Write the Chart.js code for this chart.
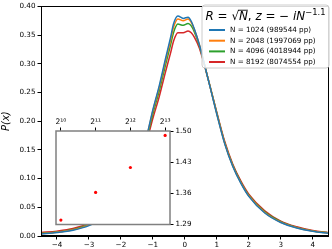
<!DOCTYPE html>
<html>
<head>
<meta charset="utf-8">
<script src="https://cdn.jsdelivr.net/npm/chart.js@4.4.1/dist/chart.umd.min.js"></script>
<style>
html,body{margin:0;padding:0;background:#fff;}
#wrap{position:relative;width:332px;height:249px;}
#wrap canvas{position:absolute;left:0;top:0;}
</style>
</head>
<body>
<div id="wrap">
<canvas id="main" width="332" height="249"></canvas>
<canvas id="inset" width="332" height="249"></canvas>
</div>
<script>
// ---------- data ----------
const xs = [-4.5,-4,-3.5,-3,-2.5,-2,-1.75,-1.5,-1.25,-1,-0.8,-0.6,-0.45,-0.35,-0.22,-0.05,0.1,0.2,0.3,0.45,0.6,0.8,1,1.25,1.5,1.75,2,2.5,3,3.5,4,4.5];
const p1024 = [0.0035,0.006,0.010,0.018,0.033,0.062,0.085,0.115,0.160,0.220,0.262,0.310,0.345,0.370,0.383,0.379,0.381,0.374,0.360,0.334,0.302,0.257,0.212,0.160,0.121,0.092,0.069,0.040,0.0235,0.014,0.0082,0.0048];
const p2048 = [0.004,0.0065,0.011,0.019,0.034,0.063,0.086,0.116,0.160,0.218,0.259,0.306,0.340,0.364,0.378,0.375,0.378,0.372,0.359,0.334,0.302,0.258,0.213,0.161,0.122,0.093,0.070,0.041,0.024,0.0145,0.0086,0.005];
const p4096 = [0.0045,0.007,0.0115,0.020,0.035,0.063,0.085,0.115,0.157,0.213,0.253,0.299,0.332,0.355,0.369,0.367,0.370,0.366,0.355,0.332,0.301,0.258,0.214,0.162,0.123,0.094,0.071,0.042,0.025,0.015,0.0089,0.0053];
const p8192 = [0.006,0.0085,0.013,0.022,0.037,0.064,0.085,0.113,0.153,0.205,0.243,0.287,0.318,0.340,0.354,0.354,0.357,0.354,0.346,0.328,0.300,0.258,0.215,0.164,0.125,0.096,0.073,0.044,0.026,0.016,0.0095,0.0058];
const seriesLabels = ['N = 1024 (989544 pp)','N = 2048 (1997069 pp)','N = 4096 (4018944 pp)','N = 8192 (8074554 pp)'];
const seriesColors = ['#1f77b4','#ff7f0e','#2ca02c','#d62728'];
const xTickValues = [-4,-3,-2,-1,0,1,2,3,4];
const yTickValues = [0,0.05,0.10,0.15,0.20,0.25,0.30,0.35,0.40];
const insetN = [1024,2048,4096,8192];
const insetVal = [1.300,1.362,1.418,1.490];
const insetYTicks = [1.29,1.36,1.43,1.50];
const insetXLabels = ['2¹⁰','2¹¹','2¹²','2¹³'];

const FONT = 'DejaVu Sans';
const seriesList = [p1024,p2048,p4096,p8192];

// ---------- plugins ----------
const framePlugin = {
  id:'frame',
  afterDraw(chart){
    const {ctx, chartArea:a} = chart;
    ctx.save();
    ctx.strokeStyle = '#000';
    ctx.lineWidth = 1;
    ctx.strokeRect(Math.round(a.left)+0.5, Math.round(a.top)+0.5, Math.round(a.right-a.left)-1, Math.round(a.bottom-a.top)-1);
    ctx.restore();
  }
};

const legendPlugin = {
  id:'mathLegend',
  afterDraw(chart){
    const ctx = chart.ctx;
    ctx.save();
    const bx=202, by=5, bw=127, bh=63, r=3;
    ctx.beginPath();
    ctx.moveTo(bx+r,by); ctx.lineTo(bx+bw-r,by); ctx.quadraticCurveTo(bx+bw,by,bx+bw,by+r);
    ctx.lineTo(bx+bw,by+bh-r); ctx.quadraticCurveTo(bx+bw,by+bh,bx+bw-r,by+bh);
    ctx.lineTo(bx+r,by+bh); ctx.quadraticCurveTo(bx,by+bh,bx,by+bh-r);
    ctx.lineTo(bx,by+r); ctx.quadraticCurveTo(bx,by,bx+r,by); ctx.closePath();
    ctx.fillStyle='rgba(255,255,255,0.85)'; ctx.fill();
    ctx.strokeStyle='#cccccc'; ctx.lineWidth=1; ctx.stroke();

    // title  R = √N, z = − iN^{−1.1}
    const pieces = [
      {t:'R', it:true},{t:' = ', it:false},{t:'√', it:false},{t:'N', it:true, bar:true},
      {t:', ', it:false},{t:'z', it:true},{t:' = ', it:false},{t:'− ', it:false},
      {t:'i', it:true},{t:'N', it:true},{t:'−1.1', it:false, sup:true}
    ];
    const measure = (fs)=>{
      let total=0;
      pieces.forEach(p=>{
        ctx.font = (p.it?'italic ':'')+(p.sup?fs*0.7:fs)+'px '+FONT;
        p.w = ctx.measureText(p.t).width; total+=p.w;
      });
      return total;
    };
    let fs = 13;
    const w0 = measure(fs);
    fs = fs*120/w0;
    const total = measure(fs);
    let x = bx + (bw-total)/2; const base = 20;
    ctx.fillStyle='#000'; ctx.textBaseline='alphabetic'; ctx.textAlign='left';
    pieces.forEach(p=>{
      ctx.font = (p.it?'italic ':'')+(p.sup?fs*0.7:fs)+'px '+FONT;
      ctx.fillText(p.t, x, p.sup? base-fs*0.45 : base);
      if(p.bar){ ctx.beginPath(); ctx.lineWidth=0.9; ctx.strokeStyle='#000'; ctx.moveTo(x-1, base-fs*0.82); ctx.lineTo(x+p.w, base-fs*0.82); ctx.stroke(); }
      x += p.w;
    });

    // entries
    ctx.font = '7.2px '+FONT; ctx.textBaseline='middle';
    const ys=[30,40.7,51.4,62];
    seriesLabels.forEach((lab,i)=>{
      ctx.strokeStyle=seriesColors[i]; ctx.lineWidth=2;
      ctx.beginPath(); ctx.moveTo(209,ys[i]); ctx.lineTo(225,ys[i]); ctx.stroke();
      ctx.fillStyle='#000'; ctx.fillText(lab, 230, ys[i]);
    });
    ctx.restore();
  }
};

// ---------- main chart ----------
new Chart(document.getElementById('main'), {
  type:'line',
  data:{
    datasets: seriesList.map((arr,i)=>({
      label: seriesLabels[i],
      data: xs.map((x,j)=>({x:x, y:arr[j]})),
      borderColor: seriesColors[i],
      borderWidth: 1.5,
      pointRadius: 0,
      fill:false,
      cubicInterpolationMode:'monotone'
    }))
  },
  options:{
    responsive:false, animation:false, devicePixelRatio:1,
    layout:{padding:{top:3,right:3.3,left:0,bottom:0}},
    plugins:{legend:{display:false}, tooltip:{enabled:false}},
    scales:{
      x:{
        type:'linear', min:-4.5, max:4.5,
        afterBuildTicks(s){ s.ticks = xTickValues.map(v=>({value:v})); },
        afterFit(s){ s.height = 13; },
        grid:{display:true, drawOnChartArea:false, drawTicks:true, tickLength:3.5, color:'#000'},
        border:{display:true, color:'#000', width:1},
        ticks:{font:{family:FONT,size:7.2}, color:'#000', padding:1, maxRotation:0,
          callback:(v)=> v<0 ? '−'+Math.abs(v) : String(v)}
      },
      y:{
        type:'linear', min:0, max:0.4,
        afterBuildTicks(s){ s.ticks = yTickValues.map(v=>({value:v})); },
        afterFit(s){ s.width = 41; },
        grid:{display:true, drawOnChartArea:false, drawTicks:true, tickLength:3.5, color:'#000'},
        border:{display:true, color:'#000', width:1},
        title:{display:true, text:'P(x)', font:{family:FONT,size:10,style:'italic'}, color:'#000', padding:{top:0,bottom:0}},
        ticks:{font:{family:FONT,size:7.2}, color:'#000', padding:2,
          callback:(v)=> Number(v).toFixed(2)}
      }
    }
  },
  plugins:[framePlugin, legendPlugin]
});

// ---------- inset ----------
const insetBg = {
  id:'insetBg',
  beforeDraw(chart){
    const {ctx, chartArea:a} = chart;
    ctx.save(); ctx.fillStyle='#fff'; ctx.fillRect(a.left,a.top,a.right-a.left,a.bottom-a.top); ctx.restore();
  },
  afterDraw(chart){
    const {ctx, chartArea:a} = chart;
    ctx.save(); ctx.strokeStyle='#808080'; ctx.lineWidth=1.5;
    ctx.strokeRect(a.left,a.top,a.right-a.left,a.bottom-a.top); ctx.restore();
  }
};

new Chart(document.getElementById('inset'), {
  type:'scatter',
  data:{ datasets:[{ data: insetN.map((n,i)=>({x:n,y:insetVal[i]})), backgroundColor:'#ff0000', borderColor:'#ff0000', pointRadius:1.6, pointBorderWidth:0 }]},
  options:{
    responsive:false, animation:false, devicePixelRatio:1,
    layout:{padding:{left:56, top:117, right:132, bottom:24.5}},
    plugins:{legend:{display:false}, tooltip:{enabled:false}},
    scales:{
      x:{
        type:'logarithmic', position:'top', min:929, max:9027,
        afterBuildTicks(s){ s.ticks = insetN.map(v=>({value:v})); },
        afterFit(s){ s.height = 14; },
        grid:{display:true, drawOnChartArea:false, drawTicks:true, tickLength:3.5, color:'#000'},
        border:{display:false},
        ticks:{font:{family:FONT,size:7.6}, color:'#000', padding:1, maxRotation:0, autoSkip:false,
          callback:(v)=>{ const k = insetN.indexOf(v); return k>=0 ? insetXLabels[k] : ''; }}
      },
      y:{
        type:'linear', position:'right', min:1.29, max:1.50,
        afterBuildTicks(s){ s.ticks = insetYTicks.map(v=>({value:v})); },
        afterFit(s){ s.width = 30; },
        grid:{display:true, drawOnChartArea:false, drawTicks:true, tickLength:3.5, color:'#000'},
        border:{display:false},
        ticks:{font:{family:FONT,size:7.2}, color:'#000', padding:2,
          callback:(v)=> Number(v).toFixed(2)}
      }
    }
  },
  plugins:[insetBg]
});
</script>
</body>
</html>
